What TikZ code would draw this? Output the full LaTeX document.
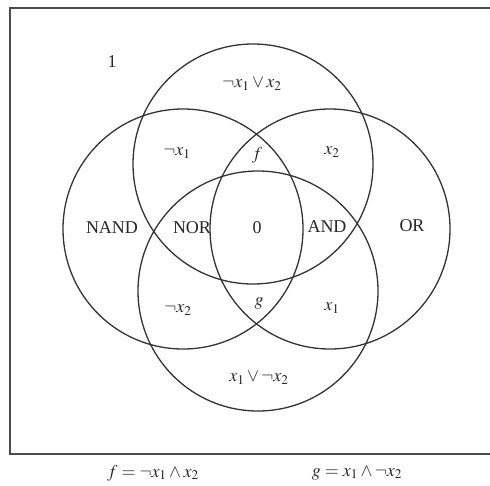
\documentclass[tikz,border=0pt]{standalone}
\usepackage{mathptmx}
\usepackage{fontspec}
\setmainfont{Liberation Serif}
\begin{document}
\begin{tikzpicture}[x=1pt,y=-1pt,
  ring/.style={draw=black!80,line width=1.3pt},
  boxline/.style={draw=black!70,line width=1.4pt},
  lbl/.style={font=\fontsize{18}{21}\selectfont,inner sep=0pt,text=black!85}]
\useasboundingbox (0,0) rectangle (490,485);
\coordinate (tr) at (495,8);
\coordinate (tl) at (10,8);
\coordinate (bl) at (10,454);
\coordinate (br) at (495,454);
\draw[boxline] (tr) -- (tl) -- (bl) -- (br);
\coordinate (ct) at (253,164);
\coordinate (cb) at (258,291);
\coordinate (cl) at (183,229);
\coordinate (cr) at (330,229);
\draw[ring] (ct) circle (120);
\draw[ring] (cb) circle (120);
\draw[ring] (cl) circle (120);
\draw[ring] (cr) circle (120);
\node[lbl] (one) at (112,62) {1};
\node[lbl] (top) at (252,84) {$\neg x_1\vee x_2$};
\node[lbl] (nx1) at (177,153) {$\neg x_1$};
\node[lbl] (f) at (257,155) {$f$};
\node[lbl] (x2) at (332,152) {$x_2$};
\node[lbl] (nand) at (112,228) {NAND};
\node[lbl] (nor) at (192,228) {NOR};
\node[lbl] (zero) at (257,228) {0};
\node[lbl] (and) at (327,227) {AND};
\node[lbl] (or) at (412,226) {OR};
\node[lbl] (nx2) at (178,310) {$\neg x_2$};
\node[lbl] (g) at (259,303) {$g$};
\node[lbl] (x1) at (332,308) {$x_1$};
\node[lbl] (bot) at (259,378) {$x_1\vee\neg x_2$};
\node[lbl] (fdef) at (153,473) {$f=\neg x_1\wedge x_2$};
\node[lbl] (gdef) at (357,473) {$g=x_1\wedge\neg x_2$};
\end{tikzpicture}
\end{document}
